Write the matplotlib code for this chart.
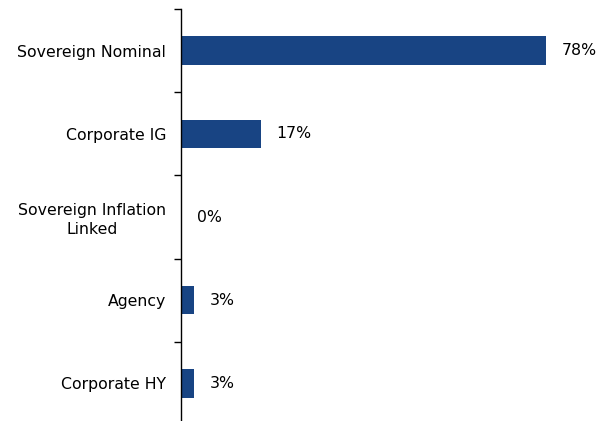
import matplotlib
matplotlib.use("Agg")
import matplotlib.pyplot as plt
import numpy as np

categories = ["Sovereign Nominal", "Corporate IG", "Sovereign Inflation\nLinked", "Agency", "Corporate HY"]
values = [78, 17, 0, 2.8, 2.8]
labels = ["78%", "17%", "0%", "3%", "3%"]

plt.rcParams['font.family'] = ['DejaVu Sans']
fig = plt.figure(figsize=(5.99, 4.21), dpi=100)
ax = fig.add_axes([181/599, -4/421, 418/599, 416/421])

y = np.arange(len(categories))
ax.barh(y, values, height=0.34, color="#184483")
ax.set_xlim(0, 418/4.68)
ax.set_ylim(len(categories) - 0.5, -0.5)

for yi, v, lab in zip(y, values, labels):
    ax.text(v + 16/4.68, yi, lab, va="center", ha="left", fontsize=11.3, color="#000000")

ax.set_yticks(y)
ax.set_yticklabels(categories, fontsize=11.3, multialignment="center", linespacing=1.25)
ax.tick_params(axis="y", which="major", length=0, pad=10.8)
ax.set_yticks(np.arange(len(categories)) - 0.5, minor=True)
ax.tick_params(axis="y", which="minor", length=5, width=1, direction="out")

ax.set_xticks([])
for s in ["top", "right", "bottom"]:
    ax.spines[s].set_visible(False)
ax.spines["left"].set_linewidth(1)

fig.savefig("out.png", dpi=100)
